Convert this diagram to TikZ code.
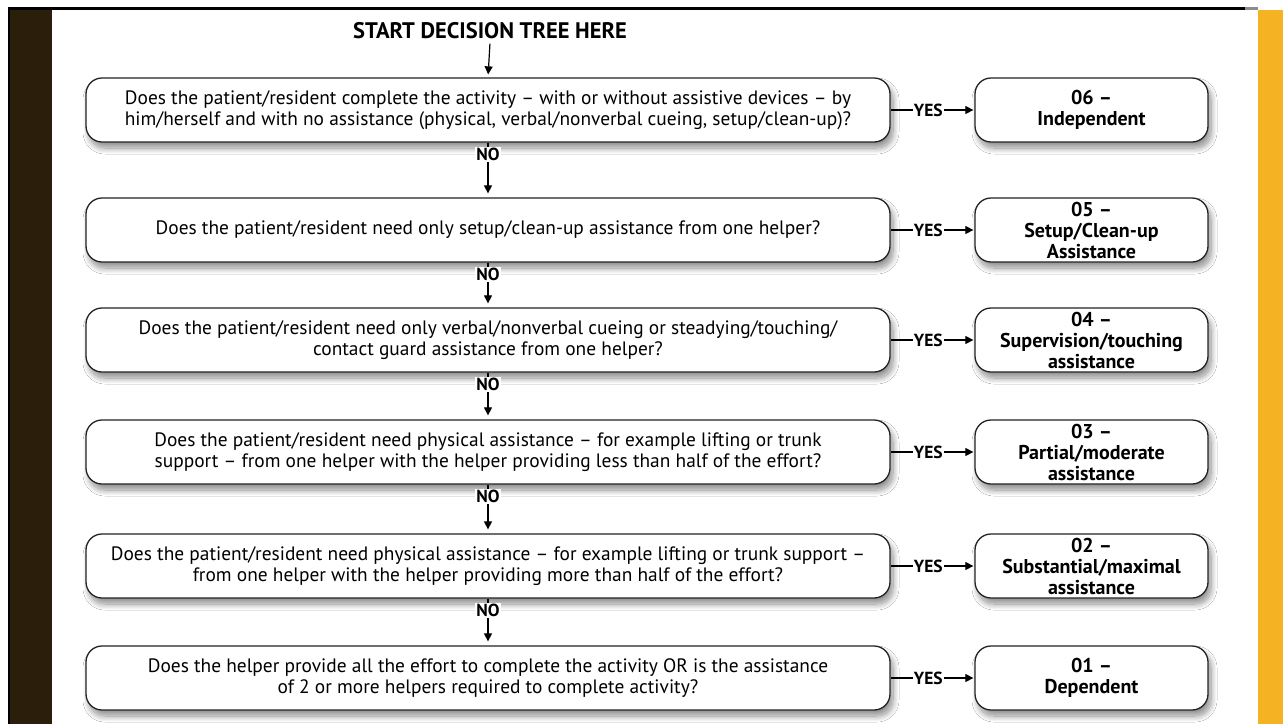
\documentclass[tikz,border=0pt]{standalone}
\usepackage{fontspec}
\setmainfont{PT Sans}
\usetikzlibrary{arrows.meta,shadows.blur}
\definecolor{barbrown}{RGB}{43,30,11}
\definecolor{baryellow}{RGB}{245,178,35}
\definecolor{boxline}{RGB}{35,35,35}
\newcommand{\qfont}{\fontsize{19.4}{20.5}\selectfont}
\newcommand{\afont}{\fontsize{20}{21}\selectfont\bfseries}
\newcommand{\lfont}{\fontsize{17.5}{18}\selectfont\bfseries}
\tikzset{
  pbox/.style={draw=boxline, line width=1.3pt, rounded corners=16pt, fill=white,
    minimum height=64pt, align=center, inner sep=0pt,
    blur shadow={shadow xshift=3pt, shadow yshift=-6pt, shadow blur steps=12, shadow blur radius=6pt, shadow opacity=45}},
  qbox/.style={pbox, minimum width=804pt, font=\qfont},
  abox/.style={pbox, minimum width=233pt, font=\afont},
  flow/.style={line width=1.2pt, draw=black, -{Triangle[length=8pt,width=8pt]}},
  lbl/.style={font=\lfont, fill=white, inner sep=1pt}
}
\begin{document}
\begin{tikzpicture}[x=1pt,y=-1pt]
\useasboundingbox (0,0) rectangle (1283,724);
\fill[white] (0,0) rectangle (1283,724);
\fill[barbrown] (8,8) rectangle (52,724);
\fill[black] (8,8) rectangle (9.5,724);
\fill[baryellow] (1258,10) rectangle (1283,724);
\draw[black, line width=2.6pt] (8,8.5) -- (1245,8.5);
\draw[black!45, line width=2.6pt] (1245,8.5) -- (1258,8.5);

\node[font=\fontsize{22.5}{24}\selectfont\bfseries] (start) at (490,31) {START DECISION TREE HERE};

\node[qbox] (q1) at (488,110) {Does the patient/resident complete the activity -- with or without assistive devices -- by\\him/herself and with no assistance (physical, verbal/nonverbal cueing, setup/clean-up)?};
\node[qbox] (q2) at (488,230) {Does the patient/resident need only setup/clean-up assistance from one helper?};
\node[qbox] (q3) at (488,340) {Does the patient/resident need only verbal/nonverbal cueing or steadying/touching/\\contact guard assistance from one helper?};
\node[qbox] (q4) at (488,452) {Does the patient/resident need physical assistance -- for example lifting or trunk\\support -- from one helper with the helper providing less than half of the effort?};
\node[qbox] (q5) at (488,566) {Does the patient/resident need physical assistance -- for example lifting or trunk support --\\from one helper with the helper providing more than half of the effort?};
\node[qbox] (q6) at (488,678) {Does the helper provide all the effort to complete the activity OR is the assistance\\of 2 or more helpers required to complete activity?};

\node[abox] (a1) at (1091.5,110) {06 --\\Independent};
\node[abox] (a2) at (1091.5,230) {05 --\\Setup/Clean-up\\Assistance};
\node[abox] (a3) at (1091.5,340) {04 --\\Supervision/touching\\assistance};
\node[abox] (a4) at (1091.5,452) {03 --\\Partial/moderate\\assistance};
\node[abox] (a5) at (1091.5,566) {02 --\\Substantial/maximal\\assistance};
\node[abox] (a6) at (1091.5,678) {01 --\\Dependent};

\draw[flow, shorten <=1pt, shorten >=3pt] (start.south) -- (q1.north);

\foreach \i/\j in {1/2,2/3,3/4,4/5,5/6}{
  \draw[flow, shorten >=4pt] (q\i.south) -- (q\j.north);
  \node[lbl, anchor=north] (no\i) at ([yshift=-4pt]q\i.south) {NO};
}
\foreach \i in {1,...,6}{
  \draw[flow, shorten >=1pt] (q\i.east) -- node[lbl, pos=0.45] (yes\i) {YES} (a\i.west);
}
\end{tikzpicture}
\end{document}
